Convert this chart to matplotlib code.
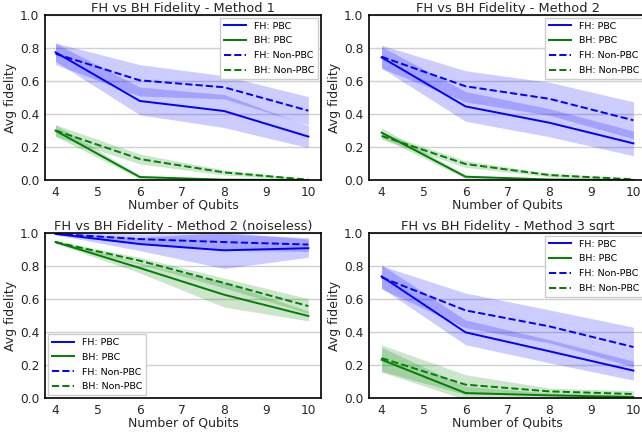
import numpy as np
import matplotlib
matplotlib.use("Agg")
import matplotlib.pyplot as plt

# === Data ===
qubits = [4, 6, 8, 10]

titles = ["FH vs BH Fidelity - Method 1",
          "FH vs BH Fidelity - Method 2",
          "FH vs BH Fidelity - Method 2 (noiseless)",
          "FH vs BH Fidelity - Method 3 sqrt"]

# Method 1
m1_fh_pbc = [0.774, 0.479, 0.418, 0.263]
m1_fh_pbc_sd = [0.055, 0.084, 0.100, 0.067]
m1_fh_npbc = [0.765, 0.604, 0.562, 0.420]
m1_fh_npbc_sd = [0.065, 0.095, 0.070, 0.085]
m1_bh_pbc = [0.299, 0.018, 0.002, 0.000]
m1_bh_pbc_sd = [0.035, 0.010, 0.003, 0.002]
m1_bh_npbc = [0.300, 0.127, 0.046, 0.002]
m1_bh_npbc_sd = [0.035, 0.030, 0.015, 0.004]

# Method 2
m2_fh_pbc = [0.743, 0.446, 0.347, 0.222]
m2_fh_pbc_sd = [0.065, 0.090, 0.085, 0.075]
m2_fh_npbc = [0.747, 0.568, 0.492, 0.362]
m2_fh_npbc_sd = [0.070, 0.094, 0.100, 0.112]
m2_bh_pbc = [0.287, 0.020, 0.003, 0.000]
m2_bh_pbc_sd = [0.030, 0.010, 0.003, 0.002]
m2_bh_npbc = [0.267, 0.097, 0.030, 0.004]
m2_bh_npbc_sd = [0.020, 0.020, 0.010, 0.004]

# Method 2 (noiseless)
m2n_fh_pbc = [0.995, 0.933, 0.895, 0.908]
m2n_fh_pbc_sd = [0.005, 0.040, 0.110, 0.055]
m2n_fh_npbc = [0.995, 0.963, 0.945, 0.930]
m2n_fh_npbc_sd = [0.005, 0.030, 0.050, 0.042]
m2n_bh_pbc = [0.945, 0.788, 0.626, 0.497]
m2n_bh_pbc_sd = [0.008, 0.030, 0.075, 0.030]
m2n_bh_npbc = [0.945, 0.832, 0.697, 0.557]
m2n_bh_npbc_sd = [0.008, 0.020, 0.030, 0.045]

# Method 3 sqrt
m3_fh_pbc = [0.737, 0.398, 0.283, 0.166]
m3_fh_pbc_sd = [0.070, 0.075, 0.070, 0.058]
m3_fh_npbc = [0.731, 0.531, 0.434, 0.309]
m3_fh_npbc_sd = [0.070, 0.105, 0.100, 0.120]
m3_bh_pbc = [0.232, 0.030, 0.016, 0.006]
m3_bh_pbc_sd = [0.075, 0.040, 0.015, 0.010]
m3_bh_npbc = [0.242, 0.081, 0.040, 0.024]
m3_bh_npbc_sd = [0.080, 0.060, 0.020, 0.020]

panels = [
    (m1_fh_pbc, m1_fh_pbc_sd, m1_bh_pbc, m1_bh_pbc_sd, m1_fh_npbc, m1_fh_npbc_sd, m1_bh_npbc, m1_bh_npbc_sd),
    (m2_fh_pbc, m2_fh_pbc_sd, m2_bh_pbc, m2_bh_pbc_sd, m2_fh_npbc, m2_fh_npbc_sd, m2_bh_npbc, m2_bh_npbc_sd),
    (m2n_fh_pbc, m2n_fh_pbc_sd, m2n_bh_pbc, m2n_bh_pbc_sd, m2n_fh_npbc, m2n_fh_npbc_sd, m2n_bh_npbc, m2n_bh_npbc_sd),
    (m3_fh_pbc, m3_fh_pbc_sd, m3_bh_pbc, m3_bh_pbc_sd, m3_fh_npbc, m3_fh_npbc_sd, m3_bh_npbc, m3_bh_npbc_sd),
]
labels = ["FH: PBC", "BH: PBC", "FH: Non-PBC", "BH: Non-PBC"]
colors = ["blue", "green", "blue", "green"]
styles = ["-", "-", "--", "--"]

# === Figure ===
W, H = 642, 437
fig = plt.figure(figsize=(W / 100, H / 100), dpi=100)
text_col = "#262626"

# axes boxes in pixels: (left, top, right, bottom)
boxes = [(45, 15, 321, 180), (369, 15, 646, 180),
         (45, 233, 321, 398), (369, 233, 646, 398)]
xlims = [(3.75, 10.3), (3.7, 10.3), (3.75, 10.3), (3.7, 10.3)]
legend_locs = ["upper right", "upper right", "lower left", "upper right"]

x = np.array(qubits)
for i, (l, t, r, b) in enumerate(boxes):
    ax = fig.add_axes([l / W, 1 - b / H, (r - l) / W, (b - t) / H])
    data = panels[i]
    for k in range(4):
        y = np.array(data[2 * k])
        sd = np.array(data[2 * k + 1])
        ax.plot(x, y, color=colors[k], linestyle=styles[k], linewidth=1.4, label=labels[k])
        ax.fill_between(x, y - sd, y + sd, color=colors[k], alpha=0.2, linewidth=0)
    ax.set_xlim(*xlims[i])
    ax.set_ylim(0, 1)
    ax.set_yticks(np.arange(0, 1.01, 0.2))
    ax.set_xticks(range(4, 11))
    ax.grid(axis="y", color="#d0d0d0", linewidth=1.0)
    ax.set_axisbelow(True)
    for s in ax.spines.values():
        s.set_color("black")
        s.set_linewidth(1.2)
    ax.tick_params(length=0, labelsize=8.8, labelcolor=text_col, pad=4)
    ax.set_title(titles[i], fontsize=9.4, color=text_col, pad=2)
    ax.set_xlabel("Number of Qubits", fontsize=9, color=text_col, labelpad=0)
    ax.set_ylabel("Avg fidelity", fontsize=9, color=text_col, labelpad=2)
    ax.legend(loc=legend_locs[i], fontsize=6.8, handlelength=2.4, frameon=True,
              fancybox=False, edgecolor="#cccccc", framealpha=1.0,
              borderaxespad=0.3, labelspacing=0.62)

fig.savefig("out.png", dpi=100)
